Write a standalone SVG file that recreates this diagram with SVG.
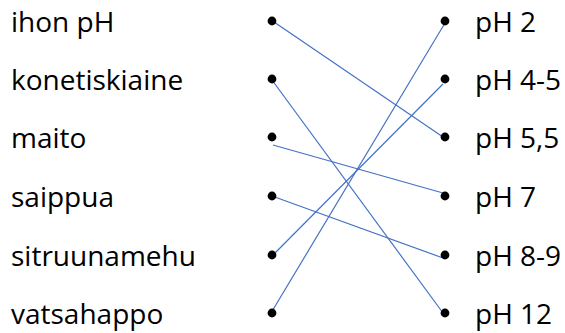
<svg xmlns="http://www.w3.org/2000/svg" width="565" height="333" viewBox="0 0 565 333">
<style>
.t{font-family:"Open Sans","Liberation Sans",sans-serif;font-size:28px;fill:#000}
.d{fill:#000}
.c{stroke:#4472C4;stroke-width:1.2;fill:none}
</style>
<rect width="565" height="333" fill="#fff"/>
<g id="connectors">
<line class="c" x1="274" y1="22" x2="443" y2="137"/>
<line class="c" x1="272" y1="80" x2="443" y2="313"/>
<line class="c" x1="273" y1="145" x2="443" y2="193"/>
<line class="c" x1="272" y1="196" x2="443" y2="258"/>
<line class="c" x1="273" y1="255" x2="443" y2="84"/>
<line class="c" x1="271" y1="313" x2="445" y2="23"/>
</g>
<g id="left-ihon"><text class="t" x="11" y="32">ihon pH</text><circle class="d" cx="272" cy="21" r="4.4"/></g>
<g id="left-konetiskiaine"><text class="t" x="11" y="90">konetiskiaine</text><circle class="d" cx="272" cy="79" r="4.4"/></g>
<g id="left-maito"><text class="t" x="11" y="148">maito</text><circle class="d" cx="272" cy="137" r="4.4"/></g>
<g id="left-saippua"><text class="t" x="11" y="207">saippua</text><circle class="d" cx="272" cy="196" r="4.4"/></g>
<g id="left-sitruunamehu"><text class="t" x="11" y="266">sitruunamehu</text><circle class="d" cx="272" cy="255" r="4.4"/></g>
<g id="left-vatsahappo"><text class="t" x="11" y="324">vatsahappo</text><circle class="d" cx="272" cy="313" r="4.4"/></g>
<g id="right-ph2"><circle class="d" cx="445" cy="21" r="4.4"/><text class="t" x="475" y="32">pH 2</text></g>
<g id="right-ph45"><circle class="d" cx="445" cy="79" r="4.4"/><text class="t" x="475" y="90">pH 4-5</text></g>
<g id="right-ph55"><circle class="d" cx="445" cy="137" r="4.4"/><text class="t" x="475" y="148">pH 5,5</text></g>
<g id="right-ph7"><circle class="d" cx="445" cy="196" r="4.4"/><text class="t" x="475" y="207">pH 7</text></g>
<g id="right-ph89"><circle class="d" cx="445" cy="255" r="4.4"/><text class="t" x="475" y="266">pH 8-9</text></g>
<g id="right-ph12"><circle class="d" cx="445" cy="313" r="4.4"/><text class="t" x="475" y="324">pH 12</text></g>
</svg>
